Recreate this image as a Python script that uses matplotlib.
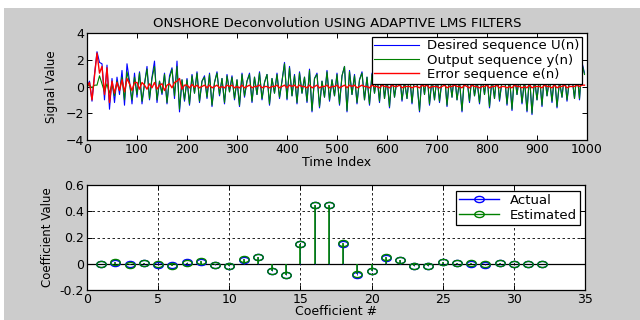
import matplotlib
matplotlib.use('Agg')
import matplotlib.pyplot as plt
from matplotlib.path import Path
from matplotlib.lines import Line2D
from matplotlib.patches import Rectangle
from matplotlib.legend_handler import HandlerLine2D
import numpy as np

# top panel: sequences sampled every 5 time steps
time_index = list(range(0, 1000, 5))

desired = [
    0.0, 0.4, -1.1, 0.9, 2.6, 1.8, 1.7, -1.0, 1.6, -1.7, 0.6, -1.2, 0.7, -0.6, 1.2, -1.4, 1.7, 0.4, -1.3, 1.0,
    -0.8, 1.1, -1.3, 0.2, 1.5, -1.0, 0.7, 1.9, -1.2, 0.4, -0.6, 1.0, -1.3, 0.8, 1.4, -0.9, 1.9, -1.9, 0.5, -1.1,
    0.6, -1.4, 0.9, -0.5, 1.1, -1.2, 0.4, 0.8, -0.9, 1.0, -1.5, 0.3, 1.1, -0.7, 0.6, -1.3, 0.9, -0.4, 0.8, -1.0,
    0.5, -1.5, 1.0, -0.8, 0.4, 1.0, -1.2, 0.7, -0.6, 1.1, -1.0, 0.3, 0.9, -1.4, 0.6, -0.5, 1.0, -0.9, 0.4, 1.8,
    -1.0, 1.5, -0.7, 0.9, -1.3, 1.1, -0.5, 0.7, -1.2, 1.3, -1.9, 0.6, 1.0, -1.6, 0.4, -0.8, 1.2, -1.1, 0.5, -0.7,
    1.0, -1.4, 0.8, 1.5, -1.9, 1.2, -0.6, 0.9, -1.3, 0.5, 1.1, -1.0, 0.7, -1.4, 1.0, -0.5, 0.8, -1.2, 1.3, -0.9,
    0.6, -1.6, 1.0, -0.8, 0.5, 1.2, -1.1, 0.4, -0.9, 1.0, -1.3, 0.7, 0.3, -1.9, 0.9, -0.6, 1.1, -1.4, 0.6, -1.0,
    0.8, -1.2, 0.5, 1.0, -1.5, 0.7, -0.8, 1.1, -1.0, 0.4, -1.9, 0.9, 0.6, -1.2, 1.0, -0.7, 0.5, -1.3, 0.8, -0.6,
    1.0, -1.6, 0.6, -0.9, 1.2, -1.1, 0.4, 0.9, -1.4, 0.7, -1.8, 1.0, -0.6, 0.8, -1.3, 0.5, -1.9, 0.9, -2.1, 0.6,
    -1.0, 0.8, -1.5, 1.1, -0.7, 0.6, -1.2, 0.9, -1.6, 0.4, -0.8, 1.0, -1.1, 0.5, 0.7, -0.9, 1.2, -1.0, 1.8, 1.0,
]

output = [
    0.0, 0.1, -0.1, 0.1, 0.1, 0.8, 0.2, -0.4, 0.2, -0.5, 0.2, -0.7, 0.4, -0.3, 0.7, -1.0, 1.1, 0.2, -1.0, 0.7,
    -0.6, 1.0, -1.1, 0.2, 1.3, -0.9, 0.6, 1.5, -1.0, 0.4, -0.5, 0.9, -1.2, 0.6, 1.3, -0.7, 1.5, -1.7, 0.5, -1.0,
    0.5, -1.3, 0.8, -0.5, 1.0, -1.1, 0.4, 0.7, -0.8, 0.9, -1.4, 0.3, 1.0, -0.6, 0.6, -1.2, 0.8, -0.4, 0.7, -0.9,
    0.5, -1.4, 0.9, -0.7, 0.4, 0.9, -1.1, 0.7, -0.6, 1.0, -0.9, 0.3, 0.9, -1.3, 0.6, -0.5, 0.9, -0.8, 0.4, 1.7,
    -0.9, 1.4, -0.7, 0.8, -1.2, 1.0, -0.5, 0.7, -1.1, 1.2, -1.8, 0.6, 0.9, -1.5, 0.4, -0.8, 1.1, -1.0, 0.5, -0.7,
    0.9, -1.3, 0.8, 1.5, -1.8, 1.1, -0.6, 0.8, -1.2, 0.5, 1.0, -1.0, 0.7, -1.3, 0.9, -0.5, 0.8, -1.1, 1.2, -0.9,
    0.6, -1.5, 0.9, -0.8, 0.5, 1.1, -1.0, 0.4, -0.9, 1.0, -1.2, 0.7, 0.3, -1.8, 0.8, -0.6, 1.0, -1.3, 0.6, -1.0,
    0.8, -1.1, 0.5, 0.9, -1.4, 0.7, -0.8, 1.0, -1.0, 0.4, -1.8, 0.8, 0.6, -1.1, 0.9, -0.7, 0.5, -1.2, 0.8, -0.6,
    0.9, -1.5, 0.6, -0.9, 1.1, -1.0, 0.4, 0.9, -1.3, 0.7, -1.7, 0.9, -0.6, 0.8, -1.2, 0.5, -1.8, 0.8, -2.0, 0.6,
    -1.0, 0.8, -1.4, 1.0, -0.7, 0.6, -1.1, 0.9, -1.5, 0.4, -0.8, 0.9, -1.0, 0.5, 0.7, -0.9, 1.1, -0.9, 1.7, 0.9,
]

error = [
    0.0, 0.3, -1.0, 0.8, 2.5, 1.0, 1.5, -0.6, 1.4, -1.2, 0.4, -0.5, 0.3, -0.3, 0.5, -0.4, 0.6, 0.2, -0.3, 0.3,
    0.3, -0.2, 0.3, 0.1, -0.2, 0.2, -0.1, 0.3, -0.2, 0.1, 0.2, -0.3, 0.1, 0.2, -0.1, 0.3, 0.4, 0.6, -0.2, 0.1,
    0.1, -0.1, 0.15, -0.05, 0.1, -0.1, 0.0, 0.1, -0.1, 0.1, -0.1, 0.0, 0.1, -0.1, 0.0, -0.1, 0.1, 0.0, 0.1, -0.1,
    0.0, -0.1, 0.1, -0.1, 0.0, 0.1, -0.1, 0.0, 0.0, 0.1, -0.1, 0.0, 0.0, -0.1, 0.0, 0.0, 0.1, -0.1, 0.0, 0.1,
    -0.1, 0.1, 0.0, 0.1, -0.1, 0.1, 0.0, 0.0, -0.1, 0.1, -0.1, 0.0, 0.1, -0.1, 0.0, 0.0, 0.1, -0.1, 0.0, 0.0,
    0.1, -0.1, 0.0, 0.1, -0.1, 0.1, 0.0, 0.1, -0.1, 0.0, 0.1, 0.0, 0.0, -0.1, 0.1, 0.0, 0.0, -0.1, 0.1, 0.0,
    0.0, -0.1, 0.1, 0.0, 0.0, 0.1, -0.1, 0.0, 0.0, 0.0, -0.1, 0.0, 0.0, -0.1, 0.1, 0.0, 0.1, -0.1, 0.0, 0.0,
    0.0, -0.1, 0.0, 0.1, -0.1, 0.0, 0.0, 0.1, 0.0, 0.0, -0.1, 0.1, 0.0, -0.1, 0.1, 0.0, 0.0, -0.1, 0.0, 0.0,
    0.1, -0.1, 0.0, 0.0, 0.1, -0.1, 0.0, 0.0, -0.1, 0.0, -0.1, 0.1, 0.0, 0.0, -0.1, 0.0, -0.1, 0.1, -0.1, 0.0,
    0.0, 0.0, -0.1, 0.1, 0.0, 0.0, -0.1, 0.1, -0.1, 0.0, 0.0, 0.1, -0.1, 0.0, 0.0, 0.0, 0.1, 0.0, 0.1, 0.1,
]

# bottom panel: filter coefficients
coef_num = list(range(1, 33))
actual = [0.0, 0.005, -0.005, 0.005, -0.008, -0.008, 0.01, 0.015, -0.012, -0.02,
          0.03, 0.048, -0.058, -0.088, 0.152, 0.45, 0.45, 0.152, -0.085, -0.055,
          0.045, 0.03, -0.02, -0.018, 0.01, 0.005, -0.002, -0.008, 0.002, -0.003,
          0.0, -0.002]
estimated = [-0.002, 0.012, -0.01, 0.003, -0.005, -0.015, 0.008, 0.02, -0.01, -0.015,
             0.035, 0.05, -0.055, -0.085, 0.15, 0.45, 0.45, 0.158, -0.08, -0.055,
             0.05, 0.03, -0.02, -0.018, 0.012, 0.005, 0.003, -0.005, 0.002, 0.0,
             0.0, -0.002]

BLUE = (0, 0, 1)
GREEN = (0, 0.5, 0)
RED = (1, 0, 0)
GRAY = '#cccccc'
FS = 9

plt.rcParams['font.family'] = 'DejaVu Sans'
plt.rcParams['font.size'] = FS

# squashed circle, matlab export looks flattened
_c = Path.unit_circle()
ELL = Path(_c.vertices * np.array([1.0, 0.65]), _c.codes)


class EndMarker(HandlerLine2D):
    def get_xdata(self, legend, xdescent, ydescent, width, height, fontsize):
        return [-xdescent, -xdescent + width], [-xdescent + width]


def matlab_axes(ax):
    ax.tick_params(direction='in', top=True, right=True, length=3.5, width=0.7,
                   labelsize=FS, pad=2)
    for s in ax.spines.values():
        s.set_linewidth(0.9)
        s.set_color('black')


fig = plt.figure(figsize=(6.4, 3.2), dpi=100, facecolor='white')
fig.patches.append(Rectangle((4 / 640, 0), 1, 312 / 320, transform=fig.transFigure,
                             facecolor=GRAY, edgecolor='none', zorder=-1))

# ---- top
ax1 = fig.add_axes([87 / 640, 180 / 320, 500 / 640, 107 / 320])
ax1.plot(time_index, desired, color=BLUE, lw=0.8, label='Desired sequence U(n)')
ax1.plot(time_index, output, color=GREEN, lw=0.8, label='Output sequence y(n)')
ax1.plot(time_index, error, color=RED, lw=1.0, label='Error sequence e(n)')
ax1.set_xlim(0, 1000)
ax1.set_ylim(-4, 4)
ax1.set_xticks(range(0, 1001, 100))
ax1.set_yticks([-4, -2, 0, 2, 4])
matlab_axes(ax1)
ax1.set_title('ONSHORE Deconvolution USING ADAPTIVE LMS FILTERS', fontsize=9.5, pad=4)
ax1.set_xlabel('Time Index', fontsize=FS, labelpad=0)
ax1.set_ylabel('Signal Value', fontsize=8.5, labelpad=6)
leg1 = ax1.legend(loc='upper right', bbox_to_anchor=(0.99, 0.965), fontsize=9.5,
                  fancybox=False, framealpha=1, edgecolor='black', borderpad=0.2,
                  labelspacing=0.1, handlelength=3.4, handletextpad=0.6, borderaxespad=0)
leg1.get_frame().set_linewidth(0.9)

# ---- bottom
ax2 = fig.add_axes([87 / 640, 30 / 320, 498 / 640, 105 / 320])
ax2.grid(True, color='black', linestyle=(0, (3, 3)), linewidth=0.6)
ax2.axhline(0, color='black', lw=0.9, zorder=1)
for vals, col, lw in [(actual, BLUE, 0.6), (estimated, GREEN, 1.2)]:
    ml, sl, bl = ax2.stem(coef_num, vals, basefmt=' ')
    sl.set_color(col)
    sl.set_linewidth(lw)
    ml.set_marker(ELL)
    ml.set_markersize(6.8)
    ml.set_markerfacecolor('none')
    ml.set_markeredgecolor(col)
    ml.set_markeredgewidth(1.0)
    ml.set_linestyle('none')
ax2.set_xlim(0, 35)
ax2.set_ylim(-0.2, 0.6)
ax2.set_xticks(range(0, 36, 5))
ax2.set_yticks([-0.2, 0, 0.2, 0.4, 0.6])
ax2.set_yticklabels(['-0.2', '0', '0.2', '0.4', '0.6'])
ax2.set_axisbelow(True)
matlab_axes(ax2)
ax2.set_xlabel('Coefficient #', fontsize=FS, labelpad=-0.5)
ax2.set_ylabel('Coefficient Value', fontsize=8.5, labelpad=4)
handles = [Line2D([0], [0], color=c, lw=1.0, marker=ELL, markersize=6.8,
                  markerfacecolor='none', markeredgecolor=c) for c in (BLUE, GREEN)]
leg2 = ax2.legend(handles, ['Actual', 'Estimated'], loc='upper right',
                  bbox_to_anchor=(0.99, 0.945), fontsize=9.5, fancybox=False,
                  framealpha=1, edgecolor='black', borderpad=0.25, labelspacing=0.15,
                  handlelength=3.0, handletextpad=0.8, borderaxespad=0,
                  handler_map={Line2D: EndMarker(numpoints=1)})
leg2.get_frame().set_linewidth(0.9)

fig.savefig('out.png', dpi=100, facecolor=fig.get_facecolor())
